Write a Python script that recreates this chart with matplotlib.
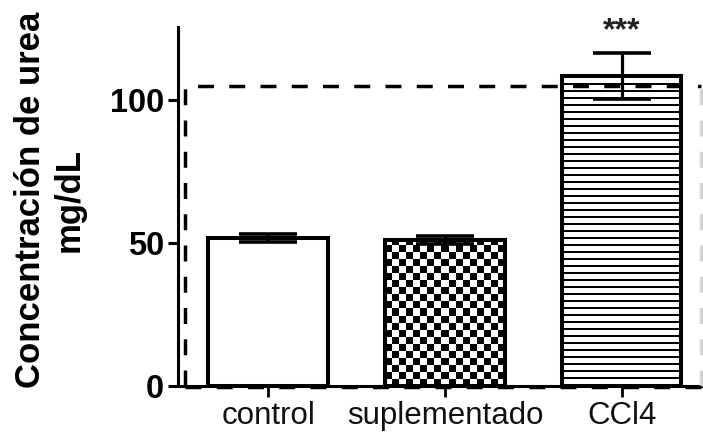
import numpy as np
import matplotlib
matplotlib.use("Agg")
import matplotlib.pyplot as plt

# ---- data ----
categories = ['control', 'suplementado', 'CCl4']
means = [51.9, 51.2, 108.3]
errors = [1.4, 1.4, 8.0]
patterns = ['none', 'checker', 'hlines']
stars = ['', '', '***']
reference_level = 105
yticks = [0, 50, 100]

plt.rcParams['font.family'] = ['Liberation Sans', 'DejaVu Sans']

W, H = 703, 432
fig = plt.figure(figsize=(W / 100, H / 100), dpi=100)
fig.patch.set_facecolor('white')
ax = fig.add_axes([178 / W, 1 - 386 / H, (703 - 178) / W, (386 - 27) / H])

x = np.arange(len(categories))
xlim = (-0.51, 2.46)
ylim = (0, 125.5)
ax.set_xlim(*xlim)
ax.set_ylim(*ylim)

bw = 0.675
bars = ax.bar(x, means, width=bw, facecolor='white', edgecolor='none', zorder=2)

# pattern fills as clipped images
for bar, pat in zip(bars, patterns):
    if pat == 'none':
        continue
    bx0, by0 = bar.get_x(), bar.get_y()
    bx1, by1 = bx0 + bar.get_width(), by0 + bar.get_height()
    (px0, py0), (px1, py1) = ax.transData.transform([(bx0, by0), (bx1, by1)])
    wpx, hpx = int(round(px1 - px0)), int(round(py1 - py0))
    ii, jj = np.mgrid[0:hpx, 0:wpx]
    if pat == 'checker':
        cell = 7
        arr = ((ii // cell + jj // cell) % 2).astype(float)
    else:
        arr = ((ii % 7) < 2).astype(float)
    im = ax.imshow(arr, extent=(bx0, bx1, by0, by1), origin='lower',
                   cmap='gray_r', vmin=0, vmax=1, interpolation='nearest',
                   aspect='auto', zorder=3)
    im.set_clip_path(bar)

ax.bar(x, means, width=bw, fill=False, edgecolor='black', linewidth=2.9, zorder=4)

ax.errorbar(x, means, yerr=errors, fmt='none', ecolor='black', elinewidth=2.3,
            capsize=21, capthick=2.6, zorder=5)

for xi, m, e, s in zip(x, means, errors, stars):
    if s:
        ax.text(xi, m + e + 2.6, s, ha='center', va='bottom', fontsize=23,
                fontweight='bold', color='#222222')

ax.set_xlim(*xlim)
ax.set_ylim(*ylim)

# dashed reference frame
dash = (0, (4.6, 4.4))
ax.plot([-0.47, -0.47, 2.45], [0, reference_level, reference_level],
        color='black', lw=2.5, linestyle=dash, zorder=6, clip_on=False,
        solid_capstyle='butt')
ax.plot([2.45, 2.45], [0, reference_level], color='#d4d4d4', lw=2.5,
        linestyle=dash, zorder=6, clip_on=False)
ax.plot([-0.47, 2.45], [-0.4, -0.4], color='black', lw=2.5,
        linestyle=dash, zorder=6, clip_on=False)

# axes styling
for side in ['top', 'right']:
    ax.spines[side].set_visible(False)
ax.spines['left'].set_linewidth(2.2)
ax.spines['bottom'].set_linewidth(2.2)
ax.set_yticks(yticks)
ax.set_yticklabels([str(t) for t in yticks], fontsize=23.5, fontweight='bold')
ax.set_xticks(x)
ax.set_xticklabels(categories, fontsize=22.5, color='#111111')
ax.tick_params(axis='y', length=7, width=2.2, pad=3)
ax.tick_params(axis='x', length=8, width=2.0, pad=3)

fig.text(50 / W, 1 - 200 / H, 'Concentración de urea\nmg/dL', rotation=90,
         ha='center', va='center', fontsize=25, fontweight='bold',
         multialignment='center', linespacing=1.2)

fig.savefig('out.png', dpi=100, facecolor='white')
